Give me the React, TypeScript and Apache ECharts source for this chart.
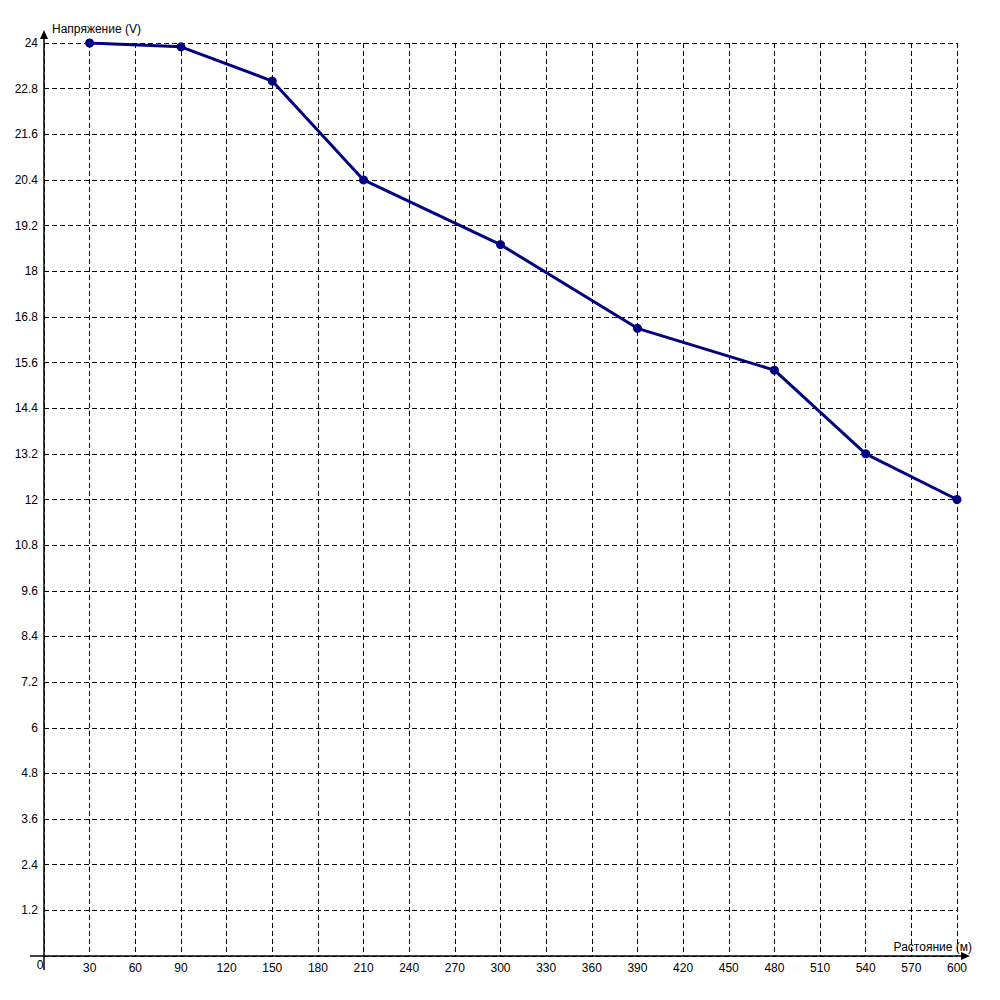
import React, { useEffect, useRef } from "react";
import * as echarts from "echarts";

const distances = [30, 90, 150, 210, 300, 390, 480, 540, 600];
const voltages = [24.0, 23.9, 23.0, 20.4, 18.7, 16.5, 15.4, 13.2, 12.0];
const yAxisTitle = "Напряжение (V)";
const xAxisTitle = "Растояние (м)";

export default function App() {
  const ref = useRef<HTMLDivElement>(null);
  useEffect(() => {
    const chart = echarts.init(ref.current!, null, { renderer: "svg" });
    const font = "Liberation Sans, Arial, sans-serif";
    const data = distances.map((d, i) => [d, voltages[i]]);
    chart.setOption({
      animation: false,
      backgroundColor: "#fff",
      grid: { left: 36, right: 35, top: 35, bottom: 36, containLabel: false },
      xAxis: {
        type: "value",
        min: 0,
        max: 600,
        interval: 30,
        axisLine: { show: false },
        axisTick: { show: false },
        axisLabel: {
          color: "#000",
          fontFamily: font,
          fontSize: 12,
          margin: 6,
          formatter: (v: number) => (v === 0 ? "" : String(v)),
        },
        splitLine: { show: true, lineStyle: { color: "#000", type: [5, 3], width: 1 } },
      },
      yAxis: {
        type: "value",
        min: 0,
        max: 24,
        interval: 1.2,
        axisLine: { show: false },
        axisTick: { show: false },
        axisLabel: {
          color: "#000",
          fontFamily: font,
          fontSize: 12,
          margin: 6,
          formatter: (v: number) => (v === 0 ? "" : String(Math.round(v * 10) / 10)),
        },
        splitLine: { show: true, lineStyle: { color: "#000", type: [5, 3], width: 1 } },
      },
      series: [
        {
          type: "line",
          data,
          symbol: "circle",
          symbolSize: 9,
          itemStyle: { color: "#000080" },
          lineStyle: { color: "#000080", width: 3 },
        },
      ],
      graphic: [],
    });
    const o = chart.convertToPixel({ gridIndex: 0 }, [0, 0]) as number[];
    const tr = chart.convertToPixel({ gridIndex: 0 }, [600, 24]) as number[];
    chart.setOption({
      graphic: [
        { type: "line", shape: { x1: o[0], y1: o[1] + 14, x2: o[0], y2: tr[1] - 6 }, style: { stroke: "#000", lineWidth: 1.5 }, z: 10 },
        { type: "line", shape: { x1: o[0] - 14, y1: o[1], x2: tr[0] + 6, y2: o[1] }, style: { stroke: "#000", lineWidth: 1.5 }, z: 10 },
        { type: "polygon", shape: { points: [[o[0] - 4, tr[1] - 4], [o[0] + 4, tr[1] - 4], [o[0], tr[1] - 13]] }, style: { fill: "#000" }, z: 10 },
        { type: "polygon", shape: { points: [[tr[0] + 4, o[1] - 4], [tr[0] + 4, o[1] + 4], [tr[0] + 13, o[1]]] }, style: { fill: "#000" }, z: 10 },
        { type: "text", x: o[0] + 8, y: tr[1] - 8, style: { text: yAxisTitle, fill: "#000", font: `12px ${font}`, textVerticalAlign: "bottom" }, z: 10 },
        { type: "text", x: tr[0] + 15, y: o[1] - 3, style: { text: xAxisTitle, fill: "#000", font: `12px ${font}`, textAlign: "right", textVerticalAlign: "bottom" }, z: 10 },
        { type: "text", x: o[0] - 4, y: o[1] + 3, style: { text: "0", fill: "#000", font: `12px ${font}`, textAlign: "center", textVerticalAlign: "top" }, z: 10 },
      ],
    });
    return () => chart.dispose();
  }, []);
  return <div ref={ref} style={{ width: 984, height: 984 }} />;
}
